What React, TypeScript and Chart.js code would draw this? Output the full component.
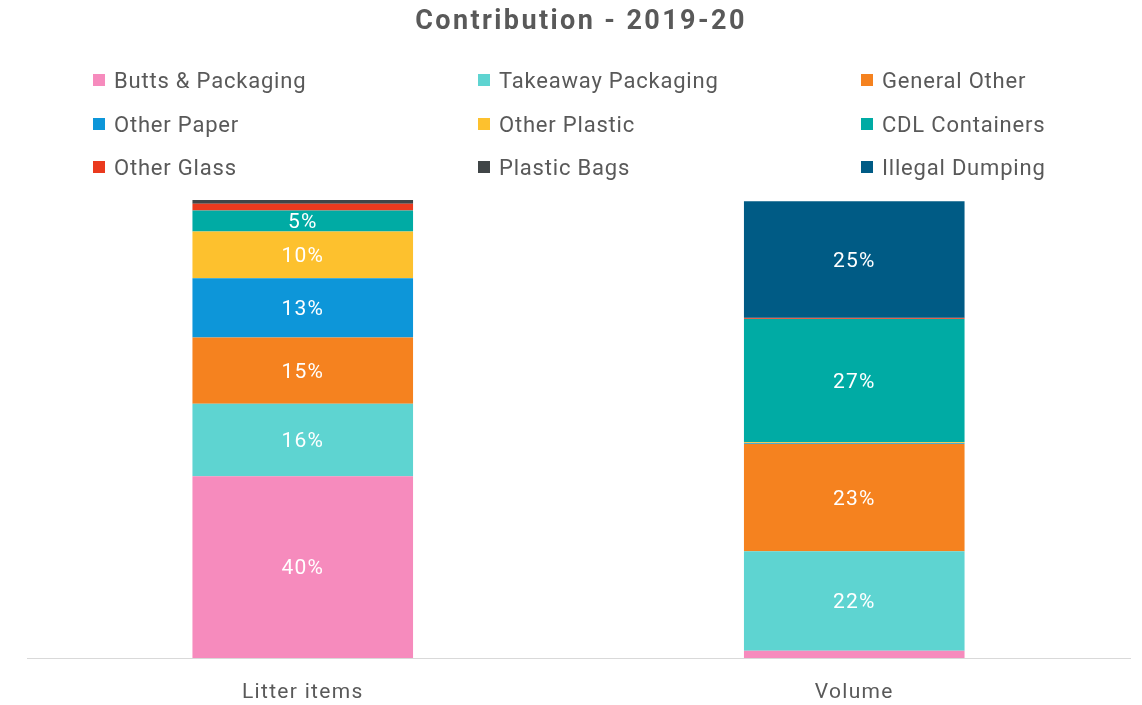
import React, { useEffect, useRef } from "react";
import { Chart, registerables } from "chart.js";

Chart.register(...registerables);

const categories = ["Litter items", "Volume"];
const seriesNames = [
  "Butts & Packaging",
  "Takeaway Packaging",
  "General Other",
  "Other Paper",
  "Other Plastic",
  "CDL Containers",
  "Other Glass",
  "Plastic Bags",
  "Illegal Dumping",
];
const seriesColors = [
  "#F68BBD",
  "#5ED4D1",
  "#F5821F",
  "#0D96D9",
  "#FDC12E",
  "#00ABA4",
  "#EA3A1E",
  "#404547",
  "#005B85",
];
const buttsPackaging = [39.7, 1.6];
const takeawayPackaging = [15.8, 21.7];
const generalOther = [14.5, 23.4];
const otherPaper = [12.9, 0.2];
const otherPlastic = [10.2, 0.2];
const cdlContainers = [4.6, 26.9];
const otherGlass = [1.5, 0.2];
const plasticBags = [0.8, 0.1];
const illegalDumping = [0, 25.4];
const seriesValues = [
  buttsPackaging,
  takeawayPackaging,
  generalOther,
  otherPaper,
  otherPlastic,
  cdlContainers,
  otherGlass,
  plasticBags,
  illegalDumping,
];
const titleText = "Contribution - 2019-20";
const FONT = "Roboto, 'DejaVu Sans', sans-serif";

const spacing = {
  id: "spacing",
  beforeDraw(chart: any) {
    chart.ctx.letterSpacing = "1.3px";
  },
};

const valueLabels = {
  id: "valueLabels",
  afterDatasetsDraw(chart: any) {
    const ctx = chart.ctx;
    ctx.save();
    ctx.letterSpacing = "1.2px";
    ctx.fillStyle = "#FFFFFF";
    ctx.font = `21px ${FONT}`;
    ctx.textAlign = "center";
    ctx.textBaseline = "middle";
    chart.data.datasets.forEach((ds: any, i: number) => {
      const meta = chart.getDatasetMeta(i);
      meta.data.forEach((bar: any, j: number) => {
        const v = ds.data[j];
        if (v >= 3) {
          const y = (bar.y + bar.base) / 2;
          ctx.fillText(Math.round(v) + "%", bar.x, y + 2);
        }
      });
    });
    ctx.restore();
  },
};

export default function App() {
  const ref = useRef<HTMLCanvasElement>(null);
  useEffect(() => {
    if (!ref.current) return;
    const chart = new Chart(ref.current, {
      type: "bar",
      data: {
        labels: categories,
        datasets: seriesNames.map((name, i) => ({
          label: name,
          data: seriesValues[i],
          backgroundColor: seriesColors[i],
          borderWidth: 0,
          barPercentage: 0.8,
          categoryPercentage: 0.5,
        })),
      },
      options: {
        animation: false,
        responsive: false,
        layout: { padding: { top: 200, left: 27, right: 12, bottom: 0 } },
        plugins: {
          legend: { display: false },
          title: { display: false },
          tooltip: { enabled: false },
        },
        scales: {
          x: {
            stacked: true,
            grid: { display: false, drawTicks: false },
            border: { display: true, color: "#D9D9D9", width: 1 },
            ticks: { color: "#595959", font: { family: FONT, size: 21 }, padding: 22 },
            afterFit: (scale: any) => {
              scale.height = 47;
            },
          },
          y: {
            stacked: true,
            display: false,
            min: 0,
            max: 100,
          },
        },
      },
      plugins: [spacing, valueLabels],
    });
    return () => chart.destroy();
  }, []);

  const cols = [93, 478, 861];
  const rows = [80, 124, 167];
  return (
    <div style={{ position: "fixed", left: 0, top: 0, width: 1142, height: 705, background: "#fff", fontFamily: FONT, overflow: "hidden" }}>
      <canvas ref={ref} width={1142} height={705} style={{ position: "absolute", left: 0, top: 0 }} />
      <div
        style={{
          position: "absolute",
          left: 0,
          width: 1162,
          top: 4,
          textAlign: "center",
          fontSize: 27,
          fontWeight: 700,
          color: "#595959",
          lineHeight: "32px",
          letterSpacing: "2.4px",
        }}
      >
        {titleText}
      </div>
      {seriesNames.map((name, i) => (
        <div
          key={name}
          style={{
            position: "absolute",
            left: cols[i % 3],
            top: rows[Math.floor(i / 3)] - 14,
            height: 28,
            display: "flex",
            alignItems: "center",
            color: "#595959",
            fontSize: 22,
            letterSpacing: "0.8px",
            whiteSpace: "nowrap",
          }}
        >
          <span style={{ display: "inline-block", width: 12, height: 12, background: seriesColors[i], marginRight: 9 }} />
          {name}
        </div>
      ))}
    </div>
  );
}
